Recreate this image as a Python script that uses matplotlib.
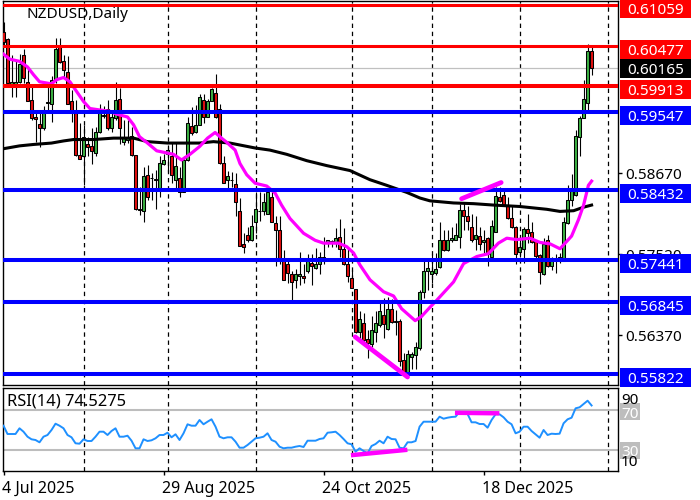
import numpy as np
import matplotlib
matplotlib.use("Agg")
import matplotlib.pyplot as plt
from matplotlib.patches import Rectangle
from matplotlib.transforms import IdentityTransform, ScaledTranslation

plt.rcParams['font.family'] = ['Noto Sans', 'DejaVu Sans']

# Prices in 1e-4 units (pips)
open_p = [6068,6057,5994,5990,5996,6035,5996,5971,5947,5937,
 5932,5967,5966,6000,6047,6026,6011,5969,5955,5893,
 5891,5909,5906,5896,5925,5949,5959,5931,5945,5973,
 5912,5914,5920,5893,5817,5814,5865,5860,5859,5846,
 5880,5895,5892,5858,5860,5841,5886,5934,5925,5936,
 5971,5947,5970,5981,5959,5881,5858,5857,5852,5814,
 5767,5780,5772,5798,5813,5814,5810,5833,5797,5787,
 5744,5739,5724,5715,5721,5722,5728,5740,5732,5738,
 5748,5768,5770,5768,5776,5759,5738,5718,5703,5642,
 5654,5632,5625,5642,5652,5666,5646,5675,5656,5658,
 5602,5581,5607,5609,5619,5698,5728,5724,5726,5734,
 5772,5758,5772,5773,5776,5815,5806,5791,5774,5778,
 5769,5775,5749,5784,5834,5836,5822,5803,5791,5756,
 5759,5788,5784,5771,5751,5724,5772,5736,5744,5742,
 5743,5796,5829,5836,5919,5946,5967,6041]
close_p = [6054,5995,5996,5997,6022,6003,5969,5945,5944,5931,
 5957,5968,6000,6044,6025,6013,5966,5955,5893,5888,
 5919,5905,5899,5925,5955,5950,5931,5947,5971,5932,
 5919,5919,5893,5817,5815,5863,5834,5861,5857,5881,
 5886,5900,5865,5877,5841,5886,5939,5924,5936,5976,
 5947,5970,5987,5947,5881,5854,5863,5858,5827,5764,
 5762,5772,5793,5816,5814,5826,5841,5798,5786,5744,
 5716,5725,5713,5724,5724,5719,5742,5736,5738,5748,
 5743,5772,5771,5775,5759,5738,5722,5705,5642,5661,
 5631,5626,5645,5654,5672,5653,5675,5656,5657,5601,
 5583,5610,5610,5620,5698,5728,5732,5728,5731,5772,
 5758,5773,5775,5780,5815,5807,5800,5772,5780,5767,
 5772,5753,5792,5835,5828,5822,5803,5791,5753,5762,
 5788,5783,5770,5750,5727,5767,5736,5747,5745,5748,
 5798,5829,5843,5920,5945,5972,6041,6016]
high_p = [6082,6059,6035,6028,6037,6043,6018,5990,5957,5952,
 5962,5992,6005,6059,6059,6035,6033,5985,5971,5938,
 5936,5919,5931,5933,5966,5962,5971,5952,5996,5988,
 5943,5943,5933,5893,5848,5876,5879,5867,5872,5891,
 5895,5905,5910,5910,5876,5891,5947,5961,5964,5979,
 5979,5973,5988,6008,5966,5892,5871,5869,5867,5832,
 5782,5791,5808,5841,5841,5839,5848,5843,5806,5806,
 5758,5742,5728,5731,5756,5739,5753,5752,5761,5755,
 5776,5773,5773,5789,5802,5789,5761,5730,5703,5671,
 5669,5645,5664,5671,5685,5690,5691,5689,5673,5661,
 5612,5616,5614,5628,5701,5744,5742,5753,5754,5798,
 5787,5787,5791,5796,5824,5827,5820,5810,5807,5791,
 5787,5777,5801,5848,5848,5843,5833,5820,5792,5777,
 5791,5810,5798,5773,5753,5775,5780,5749,5753,5754,
 5805,5851,5866,5929,5948,6000,6050,6049]
low_p = [6049,5992,5976,5976,5995,5995,5969,5943,5912,5905,
 5929,5952,5940,5995,6023,6002,5966,5940,5892,5887,
 5851,5891,5880,5891,5924,5945,5929,5926,5943,5909,
 5907,5910,5892,5815,5808,5798,5829,5829,5816,5834,
 5879,5869,5853,5843,5833,5840,5885,5921,5924,5935,
 5938,5947,5970,5946,5880,5853,5846,5848,5807,5764,
 5754,5770,5771,5782,5799,5808,5809,5798,5736,5739,
 5715,5711,5685,5705,5709,5711,5726,5709,5731,5724,
 5739,5763,5763,5762,5749,5737,5713,5704,5640,5631,
 5628,5605,5621,5628,5649,5634,5645,5654,5638,5593,
 5581,5579,5590,5589,5616,5690,5701,5711,5723,5732,
 5757,5757,5770,5772,5761,5787,5787,5770,5758,5758,
 5754,5735,5748,5784,5827,5820,5802,5790,5739,5749,
 5740,5768,5768,5744,5710,5723,5734,5730,5725,5740,
 5742,5795,5820,5835,5891,5945,5957,6007]

ma_fast_i = [0,1.6,4,6,7.5,9,12,13.3,15,16.6,18.3,20,21.6,24,26.6,28.3,31,32.5,34,36,38.3,40.8,42.5,44.5,
 46.6,49,51,52.9,54.5,55.8,57.9,59.1,60.8,62.9,65.8,67.9,69.5,71.6,75,77.9,80,83.7,85.8,87.5,89.1,91.6,
 95,97.5,99.5,102.9,104.5,106.6,108.3,112.5,115,118.3,121.2,123.7,125.8,128.3,131.6,134.1,136.6,139.1,
 142,143.7,145,146.2,147]
ma_fast = [6036,6029,6026,6018,6007,5997,5994,6000,6003,5997,5983,5969,5959,5957,5955,5951,5947,5936,5919,5910,5899,5896,5894,5886,
 5894,5905,5917,5925,5917,5911,5900,5881,5865,5853,5849,5839,5822,5803,5782,5772,5768,5768,5763,5754,5737,5716,
 5699,5693,5675,5658,5664,5677,5687,5713,5739,5749,5753,5768,5775,5773,5775,5769,5767,5760,
 5778,5801,5822,5850,5856]
ma_slow_i = [0,4,7.5,12,15,17.5,22.5,27.5,32.5,36,41,49,52.5,56.6,62.9,66.6,70.8,75.8,80.8,86.6,91.6,95.8,100.8,
 104.1,106.6,112.5,117.5,122.5,129,135.8,139.1,142.5,145,147]
ma_slow = [5902,5906,5908,5910,5913,5915,5915,5917,5917,5912,5910,5910,5912,5910,5903,5900,5894,5885,5878,5871,5858,5850,5840,
 5832,5828,5825,5824,5822,5820,5816,5813,5814,5819,5822]

rsi = [54.3,46,46,46,51.7,48.3,43.3,40.7,40,37.7,43.3,45,50,56.3,54.3,51.7,45,42.7,36.7,36.3,
 40.7,39,39,43.3,48.3,48.3,45,49,51.7,43.3,43.3,44.3,39.3,31.7,31.7,40.7,39,39.7,41.7,45,
 45,47.3,42.7,45.7,40,46.7,55.7,54.3,54.3,60,55.7,58.3,60.7,53.3,43.3,41.7,42.7,42.7,38.3,32.3,
 32.3,35,38.3,41.7,42.3,43.3,46.7,40,38.3,33.3,31.7,32.3,32.3,33.3,34,33,39.3,39.3,39.3,41,
 41.7,47.3,47.7,48.3,45,41,36.7,35.7,28.3,31.7,29,26.7,34,36,39.3,36.7,43.3,41,40.7,32.3,
 31.7,37.7,37.7,39,53.3,58.3,58.3,58.3,58.3,63.3,61.3,62.3,63,63.3,68.3,66.7,66,57.7,57.7,56,
 56,52.3,60,65.7,65.7,62.7,58.3,55.7,46.7,48.3,53.3,53.3,49,45.7,42.3,50,45,46.3,46,46.3,
 56.7,60.7,62.3,71.7,72.7,76,79.3,74.5275]

red_levels = [0.61059, 0.60477, 0.59913]
blue_levels = [0.59547, 0.58432, 0.57441, 0.56845, 0.55822]
last_price = 0.60165
price_ticks = [0.5867, 0.5752, 0.5637]
rsi_levels = [70, 30]
month_lines = [20, 41, 63, 87, 107, 129, 151]
date_ticks = [0, 40, 80, 120]
date_labels = ['4 Jul 2025', '29 Aug 2025', '24 Oct 2025', '18 Dec 2025']
trend_a_i, trend_a_p = [87.9, 101], [0.5635, 0.5578]
trend_b_i, trend_b_p = [114.5, 124.4], [0.5831, 0.5854]
trend_c_i, trend_c_v = [87.4, 100.4], [25, 30]
trend_d_i, trend_d_v = [113.4, 123.4], [67.2, 66.7]

o, c = np.array(open_p) * 1e-4, np.array(close_p) * 1e-4
h, l = np.array(high_p) * 1e-4, np.array(low_p) * 1e-4
idx = np.arange(len(o))

W, H = 700, 500
fig = plt.figure(figsize=(7, 5), dpi=100, facecolor='white')
def axpx(x0, y0, x1, y1):
    return fig.add_axes([x0 / W, 1 - y1 / H, (x1 - x0) / W, (y1 - y0) / H])

ax = axpx(2.5, 0.5, 618, 385)
ar = axpx(2.5, 388, 618, 471)
for a in (ax, ar):
    a.set_xlim(-0.25, 153.6)
    for s in a.spines.values():
        s.set_linewidth(1.0); s.set_color('black')
    for m in month_lines:
        a.axvline(m, color='black', lw=0.9, ls=(0, (3.5, 3)), zorder=1)

ax.set_ylim(0.6113 - 385 * 1.419e-4, 0.6113 - 0.5 * 1.419e-4)
ar.set_ylim(9, 92)

GREEN, RED = '#3cb043', '#e01010'
colors = [GREEN if cc >= oo else RED for oo, cc in zip(o, c)]
ax.vlines(idx, l, h, color='black', lw=0.8, zorder=2)
ax.bar(idx, np.maximum(np.abs(c - o), 1e-5), bottom=np.minimum(o, c), width=0.55,
       color=colors, edgecolor='black', linewidth=0.75, zorder=3)

ax.plot(ma_slow_i, np.array(ma_slow) * 1e-4, color='black', lw=2.2, zorder=4)
ax.plot(ma_fast_i, np.array(ma_fast) * 1e-4, color='#ff00ff', lw=2.3, zorder=5)

ax.axhline(last_price, color='#c0c0c0', lw=0.9, zorder=1.5)
for i, v in enumerate(red_levels):
    ax.axhline(v, color='#ff0000', lw=2.9 if i == 2 else 2.2, zorder=6)
for v in blue_levels:
    ax.axhline(v, color='#0000ff', lw=2.9, zorder=6)

ax.plot(trend_a_i, trend_a_p, color='#ff00ff', lw=3.4, solid_capstyle='round', zorder=7)
ax.plot(trend_b_i, trend_b_p, color='#ff00ff', lw=3.4, solid_capstyle='round', zorder=7)

ar.plot(idx, rsi, color='#1e90ff', lw=1.4, zorder=3)
for v in rsi_levels:
    ar.axhline(v, color='#bdbdbd', lw=1.5, zorder=2)
ar.plot(trend_c_i, trend_c_v, color='#ff00ff', lw=3.2, zorder=4)
ar.plot(trend_d_i, trend_d_v, color='#ff00ff', lw=3.2, zorder=4)

FS = 11
ax.set_xticks([])
ax.yaxis.tick_right()
ax.set_yticks(price_ticks)
ax.set_yticklabels([f'{v:.5f}' for v in price_ticks], fontsize=FS)
ax.tick_params(axis='y', length=3, width=1, pad=2)

ar.yaxis.tick_right()
ar.set_yticks([])
ar.set_xticks(date_ticks)
ar.set_xticklabels(date_labels, fontsize=11.5, ha='left')
ar.tick_params(axis='x', length=3, width=1, pad=4)
shift = ScaledTranslation(-1.5 / 100, 0, fig.dpi_scale_trans)
for lab in ar.get_xticklabels():
    lab.set_horizontalalignment('left')
    lab.set_transform(lab.get_transform() + shift)

fig.text(26.5 / W, 1 - 15 / H, 'NZDUSD,Daily', fontsize=FS, va='center', ha='left', color='black')
fig.text(7 / W, 1 - 402 / H, 'RSI(14) 74.5275', fontsize=11.9, va='center', ha='left', color='black')

def label(price, bg, offset=3.5):
    y = ax.transData.transform((0, price))[1] - offset
    fig.add_artist(Rectangle((620, y - 9.5), 71, 19, transform=IdentityTransform(),
                             facecolor=bg, edgecolor='none', zorder=1))
    fig.text(655.5 / W, y / H, f'{price:.5f}', color='white', fontsize=FS, ha='center',
             va='center_baseline', zorder=3)

for v in red_levels:
    label(v, '#ff0000')
for v in blue_levels:
    label(v, '#0000ff')
label(last_price, '#000000', 0)

def rsi_label(val, text_y):
    box = Rectangle((620, H - text_y - 8), 20, 17, transform=IdentityTransform(),
                    facecolor='#bdbdbd', edgecolor='none', zorder=1)
    fig.add_artist(box)
    fig.text(630 / W, 1 - text_y / H, str(val), color='white', fontsize=FS, ha='center',
             va='center_baseline', zorder=3)
rsi_label(70, 412)
rsi_label(30, 451)
fig.text(621 / W, 1 - 399 / H, '90', color='black', fontsize=FS, ha='left', va='center_baseline', zorder=4)
fig.text(621 / W, 1 - 461 / H, '10', color='black', fontsize=FS, ha='left', va='center_baseline', zorder=4)

fig.savefig('out.png', dpi=100)
